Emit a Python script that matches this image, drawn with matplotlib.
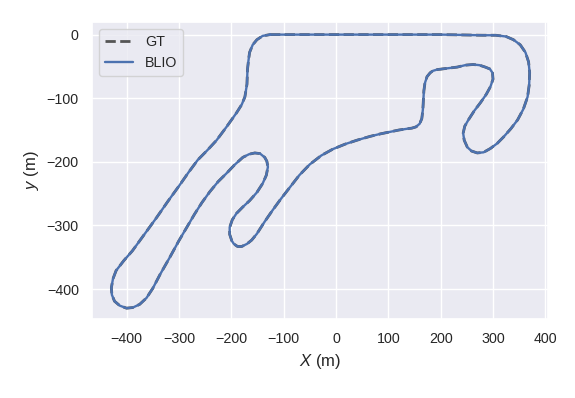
import matplotlib
matplotlib.use("Agg")
import matplotlib.pyplot as plt
import seaborn as sns

# track outline (m)
gt_x = [-126, -60, 0, 100, 200, 280, 305, 325, 339, 352, 362, 368, 370, 369, 366, 358, 347, 334,
        320, 308, 295, 282, 270, 259, 251, 245, 243, 246, 253, 264, 276, 287, 295, 300, 299, 294,
        285, 274, 262, 247, 232, 212, 193, 185, 180, 174, 170, 168, 167, 166, 164, 160, 153, 145,
        136, 120, 103, 85, 65, 40, 18, -6, -28, -50, -70, -88, -105, -121, -137, -151, -161, -170,
        -180, -188, -195, -199, -203, -203, -198, -190, -178, -165, -151, -140, -133, -130, -132,
        -136, -145, -155, -166, -178, -194, -209, -225, -241, -256, -270, -285, -300, -318, -336, -350,
        -362, -375, -388, -400, -413, -423, -428, -429, -426, -420, -405, -389, -366, -343, -321,
        -299, -282, -264, -246, -228, -209, -190, -180, -174, -170, -169, -167, -165, -159, -151,
        -140, -126]
gt_y = [0, 0, 0, 0, 0, -1, -1, -3, -8, -16, -28, -43, -60, -80, -98, -117, -134, -148,
        -161, -171, -179, -185, -186, -183, -177, -166, -155, -144, -134, -120, -107, -94, -82, -70, -60, -54,
        -51, -48, -47, -48, -51, -53, -55, -57, -60, -66, -76, -88, -103, -118, -132, -140, -145, -147,
        -148, -150, -153, -156, -160, -166, -172, -180, -190, -204, -221, -240, -258, -276, -295, -313, -323, -329,
        -333, -333, -329, -324, -314, -303, -291, -281, -271, -261, -248, -234, -221, -208, -199,
        -193, -187, -186, -188, -193, -205, -218, -231, -247, -264, -282, -303, -324, -351, -377, -399,
        -414, -424, -429, -430, -426, -419, -409, -398, -384, -371, -355, -340, -314, -288, -262,
        -237, -217, -197, -182, -166, -145, -123, -110, -98, -78, -55, -40, -28, -16, -8,
        -2, 0]

# estimate follows ground truth within the line width
blio_x = list(gt_x)
blio_y = list(gt_y)

sns.set_theme(style="darkgrid")
plt.rcParams["font.family"] = ["Liberation Sans", "DejaVu Sans"]
plt.rcParams["mathtext.fontset"] = "custom"
plt.rcParams["mathtext.it"] = "Liberation Sans:italic"
plt.rcParams["mathtext.rm"] = "Liberation Sans"

fig = plt.figure(figsize=(5.75, 3.98), dpi=100)
ax = fig.add_axes([0.160, 0.1985, 0.793, 0.7465])

ax.plot(gt_x, gt_y, color="#555555", linestyle="--", linewidth=2.0, label="GT")
ax.plot(blio_x, blio_y, color="#4c72b0", linewidth=1.7, label="BLIO")

ax.set_xlim(-466, 405)
ax.set_ylim(-447, 20)
ax.set_xticks(range(-400, 401, 100))
ax.set_yticks(range(-400, 1, 100))
ax.tick_params(labelsize=10.3, colors="#262626")

ax.set_xlabel("$X$ (m)", fontsize=12, color="#262626")
ax.set_ylabel("$y$ (m)", fontsize=12, color="#262626")
ax.legend(loc="upper left", fontsize=10.3)

fig.savefig("out.png", dpi=100)
